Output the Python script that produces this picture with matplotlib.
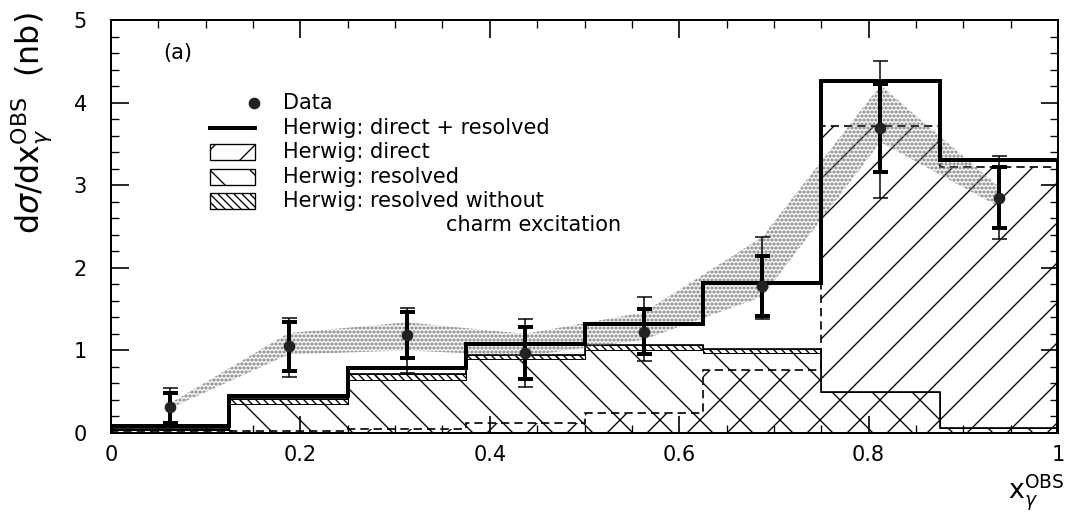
import numpy as np
import matplotlib
matplotlib.use("Agg")
import matplotlib.pyplot as plt
from matplotlib.patches import Rectangle

plt.rcParams["font.family"] = ["DejaVu Sans"]
plt.rcParams["mathtext.fontset"] = "dejavusans"
plt.rcParams["hatch.linewidth"] = 0.8

# x_gamma^OBS binning
bin_edges = [0.0, 0.125, 0.25, 0.375, 0.5, 0.625, 0.75, 0.875, 1.0]
bin_centers = [0.0625, 0.1875, 0.3125, 0.4375, 0.5625, 0.6875, 0.8125, 0.9375]

# measured cross section (nb) with statistical and total uncertainties
data_y = [0.31, 1.05, 1.19, 0.97, 1.22, 1.78, 3.69, 2.85]
stat_up = [0.18, 0.29, 0.28, 0.31, 0.28, 0.36, 0.53, 0.37]
stat_dn = [0.19, 0.30, 0.28, 0.32, 0.26, 0.36, 0.53, 0.37]
tot_up = [0.23, 0.34, 0.32, 0.41, 0.43, 0.59, 0.81, 0.50]
tot_dn = [0.21, 0.37, 0.46, 0.41, 0.35, 0.40, 0.84, 0.50]

# shaded prediction band
band_lo = [0.30, 0.95, 1.00, 0.93, 1.13, 1.65, 3.52, 2.74]
band_hi = [0.36, 1.21, 1.34, 1.20, 1.46, 2.37, 4.21, 2.98]

# Herwig histograms
herwig_total = [0.08, 0.45, 0.79, 1.08, 1.32, 1.82, 4.26, 3.30]
herwig_direct = [0.01, 0.02, 0.05, 0.12, 0.24, 0.76, 3.72, 3.22]
herwig_resolved = [0.05, 0.41, 0.72, 0.94, 1.06, 1.02, 0.50, 0.06]
herwig_res_nocharm = [0.04, 0.35, 0.64, 0.89, 1.01, 0.97, 0.50, 0.06]

legend_labels = [
    "Data",
    "Herwig: direct + resolved",
    "Herwig: direct",
    "Herwig: resolved",
    "Herwig: resolved without",
]
legend_extra = "charm excitation"

W, H, DPI = 1068, 517, 120
fig = plt.figure(figsize=(W / DPI, H / DPI), dpi=DPI)
ax_l, ax_r, ax_t, ax_b = 111, 1058, 20, 433
ax = fig.add_axes([ax_l / W, 1 - ax_b / H, (ax_r - ax_l) / W, (ax_b - ax_t) / H])

edges = np.array(bin_edges)

# hatched component histograms
ax.stairs(herwig_resolved, edges, fill=True, facecolor="none", edgecolor="black",
          hatch="\\", lw=1.0, zorder=2)
ax.stairs(herwig_direct, edges, fill=True, facecolor="none", edgecolor="black",
          hatch="/", lw=1.0, ls=(0, (5, 3)), zorder=2)
res_hi = np.append(herwig_resolved, herwig_resolved[-1])
res_lo = np.append(herwig_res_nocharm, herwig_res_nocharm[-1])
ax.fill_between(edges, res_lo, res_hi, step="post", facecolor="none",
                edgecolor="black", hatch="\\\\\\\\\\", lw=0.6, zorder=2)

# stippled band
band_x = list(bin_centers) + list(bin_centers[::-1])
band_y = list(band_hi) + list(band_lo[::-1])
with plt.rc_context({"hatch.linewidth": 1.3}):
    band = ax.fill(band_x, band_y, facecolor="none", edgecolor="#707070",
                   hatch=".....", lw=0, zorder=3)[0]
    if hasattr(band, "set_hatch_linewidth"):
        band.set_hatch_linewidth(1.3)

# total histogram
ax.stairs(herwig_total, edges, color="black", lw=2.4, zorder=4)

# data points with total (thin) and statistical (thick) error bars
ax.errorbar(bin_centers, data_y, yerr=[tot_dn, tot_up], fmt="none", ecolor="black",
            elinewidth=0.9, capsize=4.5, capthick=0.9, zorder=5)
ax.errorbar(bin_centers, data_y, yerr=[stat_dn, stat_up], fmt="none", ecolor="black",
            elinewidth=2.4, capsize=4.5, capthick=2.4, zorder=5)
ax.plot(bin_centers, data_y, "o", color="#222222", ms=6, zorder=6)

ax.set_xlim(0, 1)
ax.set_ylim(0, 5)
ax.set_xticks([0, 0.2, 0.4, 0.6, 0.8, 1.0])
ax.set_xticklabels(["0", "0.2", "0.4", "0.6", "0.8", "1"])
ax.set_xticks(np.arange(0, 1.0001, 0.05), minor=True)
ax.set_yticks([0, 1, 2, 3, 4, 5])
ax.set_yticks(np.arange(0, 5.0001, 0.2), minor=True)
ax.tick_params(which="both", direction="in", top=True, right=True, labelsize=12.5)
ax.tick_params(which="major", length=10.5, width=1.0)
ax.tick_params(which="minor", length=5.0, width=0.8)
ax.tick_params(axis="x", pad=7)
ax.tick_params(axis="y", pad=14.5)
for s in ax.spines.values():
    s.set_linewidth(1.2)


def fx(px):
    return (px - ax_l) / (ax_r - ax_l)


def fy(py):
    return (ax_b - py) / (ax_b - ax_t)


ax.set_ylabel(r"d$\sigma$/dx$_{\gamma}^{\mathrm{OBS}}$  (nb)", fontsize=19, loc="top")
ax.yaxis.set_label_coords(fx(54), fy(12))
ax.set_xlabel(r"$\mathrm{x}_{\gamma}^{\mathrm{OBS}}$", fontsize=16, loc="right")
ax.xaxis.set_label_coords(fx(1064), fy(472))

# panel tag
ax.text(fx(163), fy(53), "(a)", transform=ax.transAxes, fontsize=12.5, va="center", ha="left")

# legend
rows = [103, 128, 152, 177, 201]
tx = fx(283)
for lab, r in zip(legend_labels, rows):
    ax.text(tx, fy(r), lab, transform=ax.transAxes, fontsize=12.5, va="center", ha="left")
ax.text(fx(446), fy(225), legend_extra, transform=ax.transAxes, fontsize=12.5,
        va="center", ha="left")
ax.plot([fx(254)], [fy(rows[0])], "o", color="#222222", ms=6, transform=ax.transAxes)
ax.plot([fx(210), fx(255)], [fy(rows[1])] * 2, color="black", lw=2.4,
        transform=ax.transAxes)
bw, bh = fx(255) - fx(210), 16 / (ax_b - ax_t)
for r, h in zip(rows[2:], ["/", "\\", "\\\\\\\\\\"]):
    ax.add_patch(Rectangle((fx(210), fy(r) - bh / 2), bw, bh, transform=ax.transAxes,
                           facecolor="none", edgecolor="black", hatch=h, lw=0.8))

fig.savefig("out.png", dpi=DPI)
